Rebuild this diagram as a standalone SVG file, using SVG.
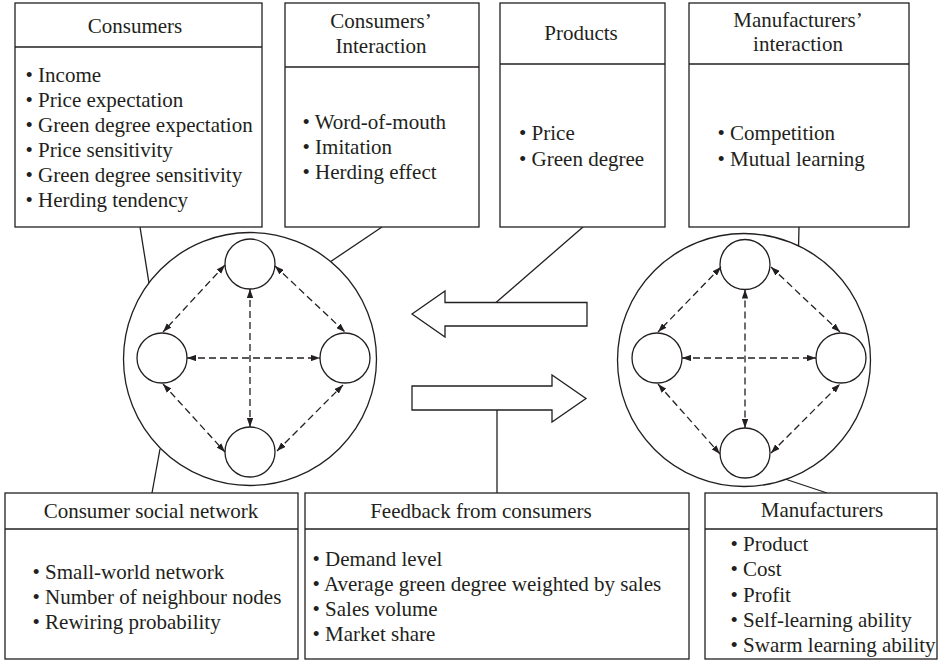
<svg xmlns="http://www.w3.org/2000/svg" width="940" height="663" viewBox="0 0 940 663">
<defs>
<marker id="ah" viewBox="0 0 10 7" refX="10" refY="3.5" markerWidth="9" markerHeight="6.5" markerUnits="userSpaceOnUse" orient="auto-start-reverse">
<path d="M0,0 L10,3.5 L0,7 z" fill="#231f20"/>
</marker>
<style>
.box{fill:#fff;stroke:#231f20;stroke-width:1.3}
.ln{fill:none;stroke:#231f20;stroke-width:1.3}
.dash{fill:none;stroke:#231f20;stroke-width:1.3;stroke-dasharray:7 4;marker-start:url(#ah);marker-end:url(#ah)}
.c{fill:#fff;stroke:#231f20;stroke-width:1.3}
text{font-family:"Liberation Serif","Times New Roman",serif;font-size:21px;fill:#231f20}
.t{text-anchor:middle}
</style>
</defs>
<rect width="940" height="663" fill="#fff"/>

<g id="connectors">
<line class="ln" x1="140" y1="227" x2="157" y2="333"/>
<line class="ln" x1="382" y1="227" x2="330" y2="262"/>
<line class="ln" x1="583" y1="227" x2="496" y2="302.5"/>
<line class="ln" x1="799" y1="227" x2="797" y2="310"/>
<line class="ln" x1="152" y1="493" x2="160" y2="449"/>
<line class="ln" x1="497" y1="410" x2="497" y2="493"/>
<line class="ln" x1="827" y1="493" x2="764" y2="472"/>
</g>

<g id="consumers">
<rect class="box" x="15" y="3" width="247" height="224"/>
<line class="ln" x1="15" y1="47" x2="262" y2="47"/>
<text class="t" x="135" y="33">Consumers</text>
<text x="25.5" y="82">• Income</text>
<text x="25.5" y="107">• Price expectation</text>
<text x="25.5" y="132">• Green degree expectation</text>
<text x="25.5" y="157">• Price sensitivity</text>
<text x="25.5" y="182">• Green degree sensitivity</text>
<text x="25.5" y="207">• Herding tendency</text>
</g>

<g id="consumers-interaction">
<rect class="box" x="285" y="3" width="194" height="224"/>
<line class="ln" x1="285" y1="67" x2="479" y2="67"/>
<text class="t" x="381" y="28">Consumers’</text>
<text class="t" x="381" y="53">Interaction</text>
<text x="302.5" y="128.5">• Word-of-mouth</text>
<text x="302.5" y="153.5">• Imitation</text>
<text x="302.5" y="178.5">• Herding effect</text>
</g>

<g id="products">
<rect class="box" x="500" y="3" width="165" height="224"/>
<line class="ln" x1="500" y1="64" x2="665" y2="64"/>
<text class="t" x="581" y="40">Products</text>
<text x="519" y="140">• Price</text>
<text x="519" y="165.5">• Green degree</text>
</g>

<g id="manufacturers-interaction">
<rect class="box" x="689" y="3" width="220" height="224"/>
<line class="ln" x1="689" y1="64" x2="909" y2="64"/>
<text class="t" x="798" y="27">Manufacturers’</text>
<text class="t" x="798" y="51">interaction</text>
<text x="717.5" y="140">• Competition</text>
<text x="717.5" y="165.5">• Mutual learning</text>
</g>

<g id="consumer-network">
<circle class="c" cx="250" cy="359" r="126.5"/>
<circle class="c" cx="250" cy="264" r="25"/>
<circle class="c" cx="162" cy="358" r="25"/>
<circle class="c" cx="345" cy="358" r="25"/>
<circle class="c" cx="250" cy="452" r="25"/>
<line class="dash" x1="187" y1="358" x2="320" y2="358"/>
<line class="dash" x1="250" y1="289" x2="250" y2="427"/>
<line class="dash" x1="225" y1="265" x2="163" y2="332"/>
<line class="dash" x1="275" y1="266" x2="345" y2="332"/>
<line class="dash" x1="163" y1="384" x2="225" y2="452"/>
<line class="dash" x1="277" y1="451" x2="343" y2="385"/>
</g>

<g id="manufacturer-network">
<circle class="c" cx="744" cy="360" r="126.5"/>
<circle class="c" cx="745" cy="264.5" r="25"/>
<circle class="c" cx="657" cy="358" r="25"/>
<circle class="c" cx="841" cy="358" r="25"/>
<circle class="c" cx="745" cy="453" r="25"/>
<line class="dash" x1="682" y1="358" x2="816" y2="358"/>
<line class="dash" x1="745" y1="289.5" x2="745" y2="428"/>
<line class="dash" x1="721" y1="267" x2="658" y2="332"/>
<line class="dash" x1="771" y1="267" x2="840" y2="332"/>
<line class="dash" x1="658" y1="384" x2="720" y2="454"/>
<line class="dash" x1="771" y1="453" x2="840" y2="384"/>
</g>

<g id="arrow-left">
<polygon class="box" points="412,314 445,291 445,302.5 587,302.5 587,326 445,326 445,337"/>
</g>
<g id="arrow-right">
<polygon class="box" points="412,386 552,386 552,375 586,398.5 552,422 552,410 412,410"/>
</g>

<g id="consumer-social-network">
<rect class="box" x="5" y="493" width="293" height="166"/>
<line class="ln" x1="5" y1="529" x2="298" y2="529"/>
<text class="t" x="151" y="518">Consumer social network</text>
<text x="32.5" y="579">• Small-world network</text>
<text x="32.5" y="604">• Number of neighbour nodes</text>
<text x="32.5" y="629">• Rewiring probability</text>
</g>

<g id="feedback">
<rect class="box" x="305" y="493" width="384" height="166"/>
<line class="ln" x1="305" y1="529" x2="689" y2="529"/>
<text class="t" x="481" y="518">Feedback from consumers</text>
<text x="312.5" y="566">• Demand level</text>
<text x="312.5" y="591">• Average green degree weighted by sales</text>
<text x="312.5" y="616">• Sales volume</text>
<text x="312.5" y="641">• Market share</text>
</g>

<g id="manufacturers">
<rect class="box" x="705" y="493" width="232" height="166"/>
<line class="ln" x1="705" y1="529" x2="937" y2="529"/>
<text class="t" x="822" y="517">Manufacturers</text>
<text x="730.5" y="551">• Product</text>
<text x="730.5" y="576">• Cost</text>
<text x="730.5" y="601.5">• Profit</text>
<text x="730.5" y="626.5">• Self-learning ability</text>
<text x="730.5" y="651.5">• Swarm learning ability</text>
</g>
</svg>
